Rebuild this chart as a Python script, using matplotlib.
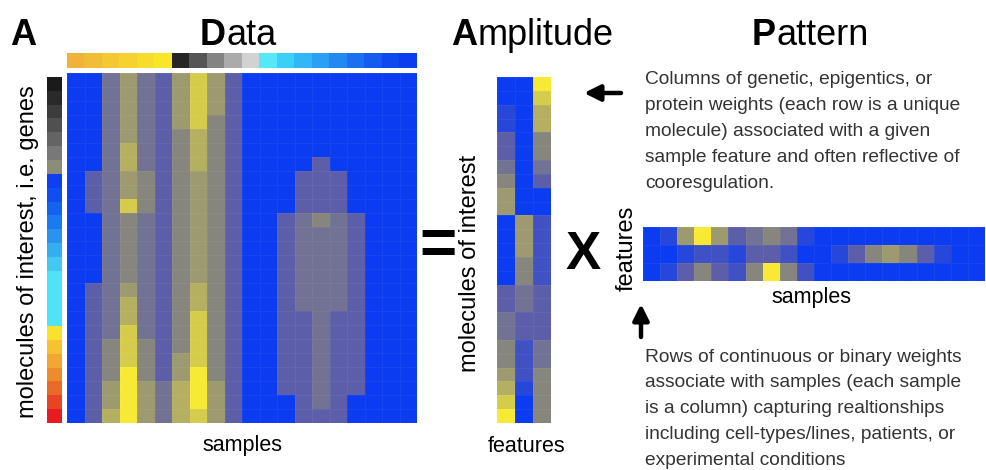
import numpy as np
import matplotlib
matplotlib.use("Agg")
import matplotlib.pyplot as plt
from matplotlib.colors import LinearSegmentedColormap, to_rgb

plt.rcParams['font.family'] = ['Liberation Sans', 'DejaVu Sans']

W, H = 987, 470

# Expression levels on a 0-9 scale (rows = molecules, columns = samples)
data_levels = [
    [0, 0, 4, 6, 4, 3, 6, 8, 6, 3, 0, 0, 0, 0, 0, 0, 0, 0, 0, 0],
    [0, 0, 4, 6, 4, 3, 6, 8, 6, 3, 0, 0, 0, 0, 0, 0, 0, 0, 0, 0],
    [0, 0, 4, 6, 4, 3, 6, 8, 6, 3, 0, 0, 0, 0, 0, 0, 0, 0, 0, 0],
    [0, 0, 4, 6, 4, 3, 6, 8, 5, 3, 0, 0, 0, 0, 0, 0, 0, 0, 0, 0],
    [0, 0, 4, 6, 4, 3, 5, 7, 5, 3, 0, 0, 0, 0, 0, 0, 0, 0, 0, 0],
    [0, 0, 4, 7, 4, 3, 5, 7, 5, 3, 0, 0, 0, 0, 0, 0, 0, 0, 0, 0],
    [0, 0, 4, 7, 4, 3, 5, 7, 5, 3, 0, 0, 0, 0, 3, 0, 0, 0, 0, 0],
    [0, 3, 4, 6, 5, 3, 5, 6, 5, 3, 0, 0, 0, 3, 3, 3, 0, 0, 0, 0],
    [0, 3, 4, 6, 5, 3, 5, 6, 5, 3, 0, 0, 0, 3, 3, 3, 0, 0, 0, 0],
    [0, 3, 4, 8, 5, 3, 5, 6, 5, 3, 0, 0, 0, 3, 3, 3, 0, 0, 0, 0],
    [0, 0, 4, 5, 4, 3, 5, 6, 5, 3, 0, 0, 3, 4, 5, 4, 3, 0, 0, 0],
    [0, 0, 4, 5, 4, 3, 5, 6, 5, 3, 0, 0, 3, 4, 4, 4, 3, 0, 0, 0],
    [0, 0, 4, 5, 4, 3, 5, 6, 5, 3, 0, 0, 3, 4, 4, 4, 3, 0, 0, 0],
    [0, 0, 4, 5, 4, 3, 5, 6, 5, 3, 0, 0, 3, 4, 4, 4, 3, 0, 0, 0],
    [0, 0, 4, 5, 4, 3, 5, 6, 5, 3, 0, 0, 3, 4, 4, 4, 3, 0, 0, 0],
    [0, 3, 4, 6, 4, 3, 5, 7, 5, 3, 0, 0, 3, 4, 4, 4, 3, 0, 0, 0],
    [0, 3, 4, 7, 4, 3, 5, 7, 5, 3, 0, 0, 3, 4, 4, 4, 3, 0, 0, 0],
    [0, 3, 4, 7, 4, 3, 5, 8, 5, 3, 0, 0, 3, 3, 4, 3, 3, 0, 0, 0],
    [0, 3, 4, 8, 4, 3, 5, 8, 5, 3, 0, 0, 3, 3, 4, 3, 3, 0, 0, 0],
    [0, 3, 5, 8, 5, 3, 5, 8, 5, 3, 0, 0, 3, 3, 4, 3, 3, 0, 0, 0],
    [0, 3, 5, 8, 5, 3, 6, 8, 5, 3, 0, 0, 3, 3, 4, 3, 3, 0, 0, 0],
    [0, 3, 5, 9, 5, 3, 6, 9, 5, 3, 0, 0, 3, 3, 4, 3, 3, 0, 0, 0],
    [0, 3, 6, 9, 6, 4, 7, 9, 6, 3, 0, 0, 3, 3, 4, 3, 3, 0, 0, 0],
    [0, 3, 6, 9, 6, 4, 7, 9, 6, 3, 0, 0, 0, 3, 4, 3, 0, 0, 0, 0],
    [0, 3, 7, 9, 6, 4, 7, 8, 6, 3, 0, 0, 0, 3, 3, 3, 0, 0, 0, 0],
]

# Amplitude matrix: one list per feature column (25 molecules each)
amp_feature1 = [0, 0, 1, 1, 3, 3, 4, 5, 6, 6, 0, 0, 0, 0, 0,
                3, 3, 4, 4, 5, 5, 6, 7, 8, 9]
amp_feature2 = [0, 0, 0, 0, 0, 0, 0, 0, 0, 0, 6, 6, 6, 5, 5,
                4, 4, 3, 3, 2, 2, 2, 1, 0, 0]
amp_feature3 = [9, 8, 7, 7, 5, 5, 4, 3, 0, 0, 2, 2, 2, 2, 2,
                3, 3, 3, 3, 4, 4, 5, 5, 5, 5]

# Pattern matrix: one list per feature row (20 samples each)
pat_feature1 = [0, 1, 6, 9, 6, 3, 4, 5, 4, 1, 0, 0, 0, 0, 0, 0, 0, 0, 0, 0]
pat_feature2 = [0, 0, 1, 2, 2, 1, 3, 3, 2, 0, 0, 1, 3, 5, 6, 5, 3, 1, 0, 0]
pat_feature3 = [0, 1, 3, 5, 3, 2, 5, 9, 5, 2, 0, 0, 0, 0, 0, 0, 0, 0, 0, 0]

# Sample annotation colours (top bar)
sample_colors = ['#f0b238', '#f2bd36', '#f4c833', '#f6d230', '#f8dc2c', '#fae628',
                 '#262626', '#555555', '#838383', '#ababab', '#d2d2d2',
                 '#55e8f8', '#3cd0f8', '#30b8f6', '#2aa0f4', '#2288f2',
                 '#1a70f0', '#145cf0', '#0e48f0', '#0a3cf0']

# Molecule annotation colours (left bar)
gene_colors = ['#1a1a1a', '#2a2a2a', '#3c3c3c', '#505050', '#646464', '#787878',
               '#8c8c78',
               '#0c40f0', '#0f4ef0', '#1462f0', '#1c7af0', '#2894f0', '#34aef0',
               '#44c8f2', '#50e2f6', '#50e2f6', '#50e2f6', '#50e2f6',
               '#f8e22c', '#f6c230', '#f2a830', '#ee8c2c', '#ea6a28', '#e84424',
               '#e81c20']

cmap = LinearSegmentedColormap.from_list(
    'blue_yellow',
    [(0.0, '#0b3cf2'), (3 / 9, '#5c5eaa'), (5 / 9, '#86867e'),
     (7 / 9, '#b4ae62'), (1.0, '#f8ea34')])

fig = plt.figure(figsize=(W / 100, H / 100), dpi=100)


def px_axes(x0, y0, x1, y1):
    ax = fig.add_axes([x0 / W, 1 - y1 / H, (x1 - x0) / W, (y1 - y0) / H])
    ax.set_axis_off()
    return ax


def heat(ax, values):
    arr = np.asarray(values, dtype=float) / 9.0
    ax.pcolormesh(arr, cmap=cmap, vmin=0, vmax=1,
                  edgecolors=(1, 1, 1, 0.05), linewidth=0.5)
    ax.set_xlim(0, arr.shape[1])
    ax.set_ylim(arr.shape[0], 0)


def color_strip(ax, colors, vertical=False):
    rgb = np.array([to_rgb(c) for c in colors])
    img = rgb[:, None, :] if vertical else rgb[None, :, :]
    ax.imshow(img, aspect='auto', interpolation='nearest')


# Data block with annotation bars
heat(px_axes(67, 73, 417, 423), data_levels)
color_strip(px_axes(67, 53, 417, 68), sample_colors)
color_strip(px_axes(47, 77, 62, 423), gene_colors, vertical=True)

# Amplitude (molecules x features)
amplitude = np.column_stack([amp_feature1, amp_feature2, amp_feature3])
heat(px_axes(497, 77, 551, 423), amplitude)

# Pattern (features x samples)
pattern = np.vstack([pat_feature1, pat_feature2, pat_feature3])
heat(px_axes(643, 227, 985, 281), pattern)

# Overlay in pixel coordinates for text and arrows
ov = fig.add_axes([0, 0, 1, 1])
ov.set_axis_off()
ov.set_xlim(0, W)
ov.set_ylim(H, 0)


def title(x_left, y_base, first, rest):
    t = ov.text(x_left, y_base, first, fontsize=26, fontweight='bold',
                ha='left', va='baseline')
    ov.annotate(rest, xy=(1, 0), xycoords=t, fontsize=26,
                ha='left', va='bottom')


ov.text(10, 45, 'A', fontsize=26, fontweight='bold', ha='left', va='baseline')
title(200, 45, 'D', 'ata')
title(451, 45, 'A', 'mplitude')
title(752, 45, 'P', 'attern')

ov.text(28, 252, 'molecules of interest, i.e. genes', rotation=90,
        fontsize=17, ha='center', va='center')
ov.text(242, 446, 'samples', fontsize=15.5, ha='center', va='center')
ov.text(470, 263, 'molecules of interest', rotation=90,
        fontsize=17, ha='center', va='center')
ov.text(527, 446, 'features', fontsize=15.5, ha='center', va='center')
ov.text(627, 248, 'features', rotation=90, fontsize=17,
        ha='center', va='center')
ov.text(811, 298, 'samples', fontsize=15.5, ha='center', va='center')

ov.text(438, 247, '=', fontsize=46, fontweight='heavy', ha='center', va='center')
ov.text(583, 255, 'X', fontsize=38, fontweight='bold', ha='center', va='center')

arrow_style = dict(arrowstyle='-|>', color='black', lw=3.2,
                   mutation_scale=24, shrinkA=0, shrinkB=0)
ov.annotate('', xy=(584, 93), xytext=(621, 93), arrowprops=arrow_style)
ov.annotate('', xy=(641, 304), xytext=(641, 337), arrowprops=arrow_style)

para1 = ['Columns of genetic, epigentics, or',
         'protein weights (each row is a unique',
         'molecule) associated with a given',
         'sample feature and often reflective of',
         'cooresgulation.']
para2 = ['Rows of continuous or binary weights',
         'associate with samples (each sample',
         'is a column) capturing realtionships',
         'including cell-types/lines, patients, or',
         'experimental conditions']
for i, line in enumerate(para1):
    ov.text(645, 80 + 26 * i, line, fontsize=13.8, color='#333333',
            ha='left', va='center')
for i, line in enumerate(para2):
    ov.text(645, 357 + 25.8 * i, line, fontsize=13.8, color='#333333',
            ha='left', va='center')

fig.savefig('out.png', dpi=100)
